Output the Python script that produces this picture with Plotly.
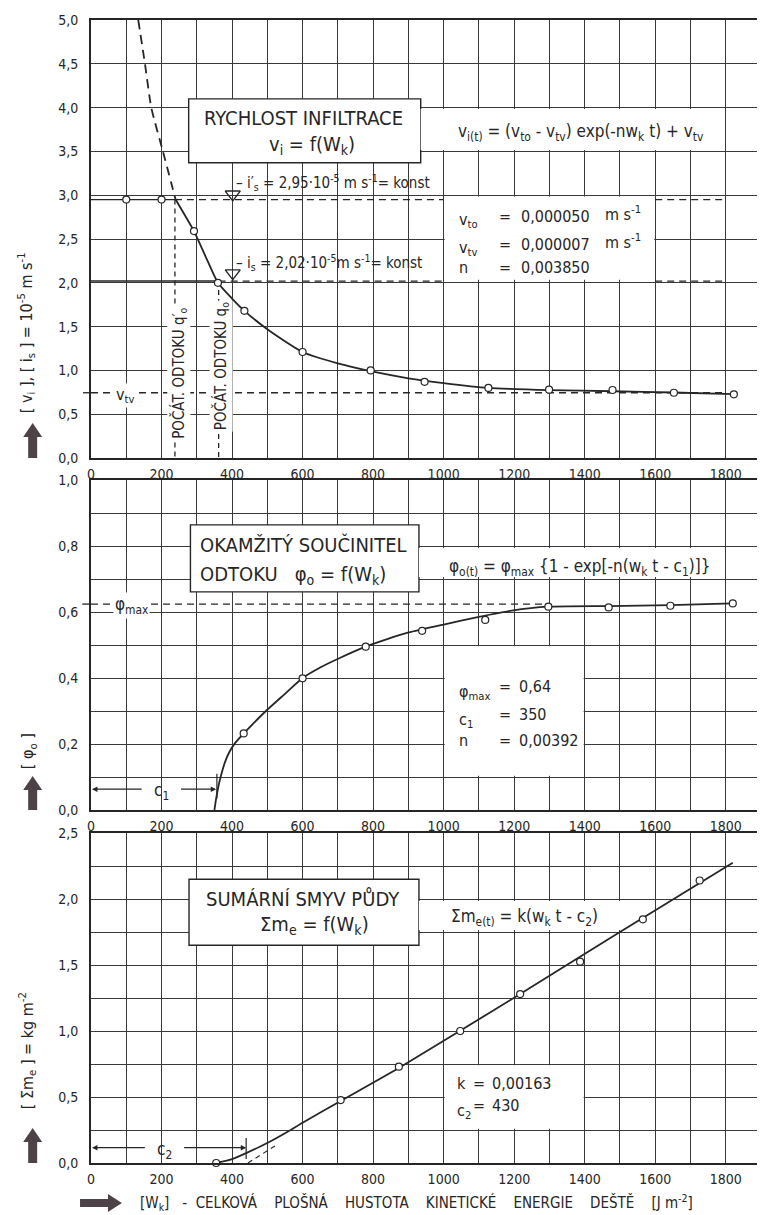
import plotly.graph_objects as go

FONT = "DejaVu Sans Condensed"
INK = "#262626"
GRID = "#3a3a3a"
ARROW = "#4d4248"

# ---------------- axis ticks ----------------
W_TICKS = [0, 200, 400, 600, 800, 1000, 1200, 1400, 1600, 1800]
W_TICK_LABELS = ["0", "200", "400", "600", "800", "1000", "1200", "1400", "1600", "1800"]
V_TICKS = [0.0, 0.5, 1.0, 1.5, 2.0, 2.5, 3.0, 3.5, 4.0, 4.5, 5.0]
V_TICK_LABELS = ["0,0", "0,5", "1,0", "1,5", "2,0", "2,5", "3,0", "3,5", "4,0", "4,5", "5,0"]
PHI_TICKS = [0.0, 0.2, 0.4, 0.6, 0.8, 1.0]
PHI_TICK_LABELS = ["0,0", "0,2", "0,4", "0,6", "0,8", "1,0"]
SUM_TICKS = [0.0, 0.5, 1.0, 1.5, 2.0, 2.5]
SUM_TICK_LABELS = ["0,0", "0,5", "1,0", "1,5", "2,0", "2,5"]

# ---------------- panel 1: infiltration rate ----------------
VI_MEAS_W = [100, 200, 292, 360, 435, 600, 793, 946, 1127, 1299, 1479, 1653, 1823]
VI_MEAS_V = [2.95, 2.95, 2.59, 2.00, 1.68, 1.21, 1.00, 0.87, 0.80, 0.78, 0.776, 0.745, 0.727]
VI_EXTRAP_W = [134, 153, 171, 204, 240]
VI_EXTRAP_V = [5.0, 4.5, 4.0, 3.5, 2.95]
VI_FIT_W = [240, 265, 292, 325, 360, 400, 435, 500, 600, 700, 800, 900, 1000, 1127, 1300,
            1480, 1650, 1823]
VI_FIT_V = [2.95, 2.78, 2.59, 2.30, 2.00, 1.82, 1.68, 1.47, 1.21, 1.08, 0.985, 0.91, 0.855,
            0.80, 0.775, 0.762, 0.748, 0.73]
IS_PRIME = 2.95
IS_LEVEL = 2.02
VTV_LEVEL = 0.745
Q0_PRIME_W = 238
Q0_W = 362
PARAM_BOX_W = [1000, 1600]
LINE_END_W = 1800
TRI_W = [402, 402]
TRI_V = [3.01, 2.11]

# ---------------- panel 2: runoff coefficient ----------------
PHI_MEAS_W = [433, 600, 779, 939, 1118, 1297, 1468, 1643, 1820]
PHI_MEAS = [0.232, 0.399, 0.495, 0.543, 0.576, 0.616, 0.614, 0.619, 0.626]
PHI_FIT_W = [350, 355, 362, 370, 380, 392, 410, 433, 460, 496, 550, 600, 650, 704, 779, 840,
             901, 1000, 1100, 1193, 1297, 1468, 1643, 1820]
PHI_FIT = [0.0, 0.035, 0.075, 0.11, 0.145, 0.175, 0.205, 0.232, 0.262, 0.30, 0.352, 0.40,
           0.432, 0.46, 0.495, 0.518, 0.538, 0.562, 0.585, 0.604, 0.616, 0.618, 0.621, 0.626]
PHI_MAX_LINE = 0.624
PHI_MAX_END_W = 1297
C1_W = 355
C1_Y = 0.063

# ---------------- panel 3: cumulative soil loss ----------------
SUM_MEAS_W = [355, 708, 873, 1047, 1217, 1387, 1565, 1726]
SUM_MEAS = [0.0, 0.477, 0.73, 1.0, 1.28, 1.525, 1.846, 2.14]
SUM_FIT_W = [355, 400, 440, 480, 520, 560, 600, 708, 873, 1217, 1500, 1820]
SUM_FIT = [0.0, 0.03, 0.075, 0.125, 0.18, 0.24, 0.305, 0.47, 0.72, 1.28, 1.75, 2.275]
TANGENT_W = [445, 525]
TANGENT_S = [0.0, 0.135]
C2_W = 440
C2_Y = 0.116

# ---------------- page geometry helpers (decorations only) ----------------
OFF = 8                      # default body margin of the html page
FW, FH = 765 - OFF, 1215 - OFF
ML, MR, MT, MB = 91 - OFF, 2, 20 - OFF, 52
PW, PH = FW - ML - MR, FH - MT - MB


def px(x):          # page pixel -> paper
    return (x - OFF - ML) / PW


def py(y):
    return (FH - MB - (y - OFF)) / PH


fig = go.Figure()


def ax(i):
    return ("x", "y") if i == 1 else (f"x{i}", f"y{i}")


def line(i, xs, ys, dash="solid", width=1.3, shape="linear", smoothing=0.6):
    xa, ya = ax(i)
    fig.add_trace(go.Scatter(x=xs, y=ys, xaxis=xa, yaxis=ya, mode="lines",
                             line=dict(color=INK, width=width, dash=dash, shape=shape,
                                       smoothing=smoothing),
                             hoverinfo="skip", showlegend=False))


def points(i, xs, ys):
    xa, ya = ax(i)
    fig.add_trace(go.Scatter(x=xs, y=ys, xaxis=xa, yaxis=ya, mode="markers",
                             marker=dict(symbol="circle", size=7, color="white",
                                         line=dict(color=INK, width=1.2)),
                             showlegend=False, cliponaxis=False))


annotations = []
shapes = []


def text(i, t, x, y, size=14, xanchor="center", yanchor="middle", bg=None, angle=0):
    xa, ya = ax(i)
    annotations.append(dict(text=t, x=x, y=y, xref=xa, yref=ya, showarrow=False,
                            xanchor=xanchor, yanchor=yanchor, textangle=angle,
                            bgcolor=bg, borderpad=1,
                            font=dict(family=FONT, size=size, color=INK)))


def arrow(i, head_x, tail_x, y):
    xa, ya = ax(i)
    annotations.append(dict(text="", x=head_x, y=y, ax=tail_x, ay=y, xref=xa, yref=ya,
                            axref=xa, ayref=ya, showarrow=True, arrowhead=2,
                            arrowsize=0.9, arrowwidth=1.2, arrowcolor=INK))


def white_rect(i, x0, x1, y0, y1, border=False):
    xa, ya = ax(i)
    shapes.append(dict(type="rect", xref=xa, yref=ya, x0=x0, x1=x1, y0=y0, y1=y1,
                       fillcolor="white", layer="between",
                       line=dict(color=INK, width=1.4 if border else 0)))


NB = "\u00a0"

# ======== panel 1 ========
line(1, VI_EXTRAP_W, VI_EXTRAP_V, dash="9px,6px", width=1.8, shape="spline")
line(1, VI_FIT_W, VI_FIT_V, width=1.8, shape="spline")
line(1, [0, Q0_PRIME_W], [IS_PRIME, IS_PRIME], width=1.4)
line(1, [Q0_PRIME_W, PARAM_BOX_W[0], None, PARAM_BOX_W[1], LINE_END_W],
     [IS_PRIME, IS_PRIME, None, IS_PRIME, IS_PRIME], dash="7px,5px")
line(1, [0, Q0_W], [IS_LEVEL, IS_LEVEL], width=1.6)
line(1, [Q0_W, PARAM_BOX_W[0], None, PARAM_BOX_W[1], LINE_END_W],
     [IS_LEVEL, IS_LEVEL, None, IS_LEVEL, IS_LEVEL], dash="7px,5px")
line(1, [0, LINE_END_W], [VTV_LEVEL, VTV_LEVEL], dash="7px,5px")
line(1, [Q0_PRIME_W, Q0_PRIME_W], [IS_PRIME, 0], dash="5px,4px")
line(1, [Q0_W, Q0_W], [IS_LEVEL, 0], dash="5px,4px")
points(1, VI_MEAS_W, VI_MEAS_V)
fig.add_trace(go.Scatter(x=TRI_W, y=TRI_V, xaxis="x", yaxis="y", mode="markers",
                         marker=dict(symbol="triangle-down-open", size=13,
                                     color=INK, line=dict(color=INK, width=1.4)),
                         showlegend=False, cliponaxis=False))

white_rect(1, 277, 935, 3.37, 4.10, border=True)
white_rect(1, 935, 1797, 3.515, 3.985)
white_rect(1, 1003, 1597, 2.035, 2.985)
shapes.append(dict(type="line", xref="x domain", yref="y", x0=-0.012, x1=0,
                   y0=VTV_LEVEL, y1=VTV_LEVEL, line=dict(color=INK, width=1.3)))

text(1, "RYCHLOST INFILTRACE", 602, 3.88, size=20)
text(1, "v<sub>i</sub> = f(W<sub>k</sub>)", 626, 3.57, size=20)
text(1, "v<sub>i(t)</sub> = (v<sub>to</sub> - v<sub>tv</sub>) exp(-nw<sub>k</sub> t) + v<sub>tv</sub>",
     1390, 3.72, size=17)
text(1, "– i′<sub>s</sub> = 2,95·10<sup>-5</sup> m s<sup>-1</sup>= konst", 405, 3.15,
     size=15, xanchor="left")
text(1, "– i<sub>s</sub> = 2,02·10<sup>-5</sup>m s<sup>-1</sup>= konst", 405, 2.23,
     size=15, xanchor="left")
for name, val, unit, yv in [("v<sub>to</sub>", "0,000050", "m s<sup>-1</sup>", 2.76),
                            ("v<sub>tv</sub>", "0,000007", "m s<sup>-1</sup>", 2.44),
                            ("n", "0,003850", "", 2.18)]:
    text(1, name, 1037, yv - (0.05 if "sub" in name else 0), size=16, xanchor="left")
    text(1, "=", 1173, yv, size=16)
    text(1, val, 1213, yv, size=16, xanchor="left")
    if unit:
        text(1, unit, 1452, yv + 0.03, size=16, xanchor="left")
text(1, "v<sub>tv</sub>", 96, VTV_LEVEL - 0.03, size=16, bg="white")
text(1, "POČÁT. ODTOKU q′<sub>o</sub>", 249, 0.97, size=15, bg="white", angle=-90)
text(1, "POČÁT. ODTOKU q<sub>o</sub>", 369, 1.05, size=15, bg="white", angle=-90)

# ======== panel 2 ========
line(2, [0, PHI_MAX_END_W], [PHI_MAX_LINE, PHI_MAX_LINE], dash="7px,5px")
line(2, PHI_FIT_W, PHI_FIT, width=1.8, shape="spline", smoothing=0.5)
line(2, [C1_W + 2, C1_W + 2], [0.035, 0.11], width=1.2)
points(2, PHI_MEAS_W, PHI_MEAS)
arrow(2, 3, 148, C1_Y)
arrow(2, C1_W, 251, C1_Y)
shapes.append(dict(type="line", xref="x2 domain", yref="y2", x0=-0.013, x1=0,
                   y0=PHI_MAX_LINE, y1=PHI_MAX_LINE, line=dict(color=INK, width=1.3)))

white_rect(2, 282, 930, 0.661, 0.864, border=True)
white_rect(2, 930, 1797, 0.706, 0.794)
white_rect(2, 1003, 1397, 0.104, 0.496)

text(2, "OKAMŽITÝ SOUČINITEL", 303, 0.803, size=20, xanchor="left")
text(2, "ODTOKU" + NB * 2 + " φ<sub>o</sub> = f(W<sub>k</sub>)", 303, 0.712, size=20,
     xanchor="left")
text(2, "φ<sub>o(t)</sub> = φ<sub>max</sub> {1 - exp[-n(w<sub>k</sub> t - c<sub>1</sub>)]}",
     1385, 0.735, size=17)
text(2, "φ<sub>max</sub>", 115, PHI_MAX_LINE - 0.005, size=17, bg="white")
text(2, "c<sub>1</sub>", 200, C1_Y - 0.008, size=17)
for name, val, yv in [("φ<sub>max</sub>", "0,64", 0.374), ("c<sub>1</sub>", "350", 0.288),
                      ("n", "0,00392", 0.212)]:
    text(2, name, 1037, yv - (0.018 if "sub" in name else 0), size=16, xanchor="left")
    text(2, "=", 1173, yv, size=16)
    text(2, val, 1207, yv, size=16, xanchor="left")

# ======== panel 3 ========
line(3, SUM_FIT_W, SUM_FIT, width=1.8, shape="spline", smoothing=0.5)
line(3, TANGENT_W, TANGENT_S, dash="5px,4px", width=1.1)
line(3, [C2_W, C2_W], [0.03, 0.19], width=1.2)
points(3, SUM_MEAS_W, SUM_MEAS)
arrow(3, 3, 157, C2_Y)
arrow(3, C2_W, 260, C2_Y)

white_rect(3, 278, 930, 1.65, 2.15, border=True)
white_rect(3, 930, 1597, 1.765, 1.985)
white_rect(3, 1003, 1397, 0.26, 0.74)

text(3, "SUMÁRNÍ SMYV PŮDY", 600, 2.0, size=20)
text(3, "Σm<sub>e</sub> = f(W<sub>k</sub>)", 634, 1.80, size=20)
text(3, "Σm<sub>e(t)</sub> = k(w<sub>k</sub> t - c<sub>2</sub>)", 1229, 1.86, size=17)
text(3, "c<sub>2</sub>", 209, C2_Y - 0.02, size=17)
for name, val, yv in [("k", "0,00163", 0.606), ("c<sub>2</sub>", "430", 0.432)]:
    text(3, name, 1033, yv - (0.045 if "sub" in name else 0), size=16, xanchor="left")
    text(3, "=", 1099, yv, size=16)
    text(3, val, 1132, yv, size=16, xanchor="left")


# ======== axis titles (paper) ========
def ptext(t, x, y, size=14, angle=0, xanchor="center"):
    annotations.append(dict(text=t, x=px(x), y=py(y), xref="paper", yref="paper",
                            showarrow=False, textangle=angle, xanchor=xanchor,
                            yanchor="middle",
                            font=dict(family=FONT, size=size, color=INK)))


ptext("[ v<sub>i</sub> ], [ i<sub>s</sub> ] = 10<sup>-5</sup>" + NB + "m" + NB + "s<sup>-1</sup>",
      26, 333, size=16, angle=-90)
ptext("[ φ<sub>o</sub> ]", 28, 751, size=16, angle=-90)
ptext("[ Σm<sub>e</sub> ] = kg" + NB + "m<sup>-2</sup>", 27, 1051, size=16, angle=-90)
G = NB * 3 + " "
ptext("[W<sub>k</sub>]" + NB * 2 + " -" + NB + " CELKOVÁ" + G + "PLOŠNÁ" + G + "HUSTOTA" + G +
      "KINETICKÉ" + G + "ENERGIE" + G + "DEŠTĚ" + G + "[J m<sup>-2</sup>]",
      138, 1202, size=15, xanchor="left")


def up_arrow(cx, yb, yt):
    pts = [(cx - 4.5, yb), (cx - 4.5, yt + 14), (cx - 9.5, yt + 14), (cx, yt),
           (cx + 9.5, yt + 14), (cx + 4.5, yt + 14), (cx + 4.5, yb)]
    return "M " + " L ".join(f"{px(a):.5f},{py(b):.5f}" for a, b in pts) + " Z"


def right_arrow(xl, xt, cy):
    pts = [(xl, cy - 4), (xt - 14, cy - 4), (xt - 14, cy - 9), (xt, cy),
           (xt - 14, cy + 9), (xt - 14, cy + 4), (xl, cy + 4)]
    return "M " + " L ".join(f"{px(a):.5f},{py(b):.5f}" for a, b in pts) + " Z"


for p in [up_arrow(32.5, 458, 423), up_arrow(32.5, 810, 776),
          up_arrow(32.5, 1163, 1128), right_arrow(80, 122, 1203)]:
    shapes.append(dict(type="path", path=p, xref="paper", yref="paper",
                       fillcolor=ARROW, line=dict(color=ARROW, width=0)))

# ======== axes ========
tickfont = dict(family=FONT, size=14, color=INK)


def xaxis(anchor):
    return dict(range=[0, 1900], anchor=anchor, tickmode="array", tickvals=W_TICKS,
                ticktext=W_TICK_LABELS, showgrid=True, gridcolor=GRID, gridwidth=1.2,
                minor=dict(tickmode="linear", tick0=0, dtick=100, showgrid=True,
                           gridcolor=GRID, gridwidth=1.2),
                showline=True, mirror=True, linecolor=INK, linewidth=1.6,
                zeroline=False, ticks="", tickfont=tickfont, ticklabelstandoff=2)


def yaxis(anchor, rng, vals, labels, domain, minor_dtick=None):
    d = dict(range=rng, anchor=anchor, domain=domain, tickmode="array", tickvals=vals,
             ticktext=labels, showgrid=True, gridcolor=GRID, gridwidth=1.2,
             showline=True, mirror=True, linecolor=INK, linewidth=1.6,
             zeroline=False, ticks="", tickfont=tickfont, ticklabelstandoff=8)
    if minor_dtick:
        d["minor"] = dict(tickmode="linear", tick0=0, dtick=minor_dtick, showgrid=True,
                          gridcolor=GRID, gridwidth=1.2)
    return d


def dom(top_px, bottom_px):
    return [py(bottom_px), py(top_px)]


fig.update_layout(
    width=FW, height=FH, autosize=False,
    margin=dict(l=ML, r=MR, t=MT, b=MB, pad=0),
    paper_bgcolor="white", plot_bgcolor="white",
    showlegend=False,
    xaxis=xaxis("y"),
    xaxis2=xaxis("y2"),
    xaxis3=xaxis("y3"),
    yaxis=yaxis("x", [0, 5], V_TICKS, V_TICK_LABELS, dom(20, 458)),
    yaxis2=yaxis("x2", [0, 1], PHI_TICKS, PHI_TICK_LABELS, dom(480, 810), 0.1),
    yaxis3=yaxis("x3", [0, 2.5], SUM_TICKS, SUM_TICK_LABELS, dom(833, 1163), 0.25),
    annotations=annotations,
    shapes=shapes,
)

fig.write_html("out.html")
